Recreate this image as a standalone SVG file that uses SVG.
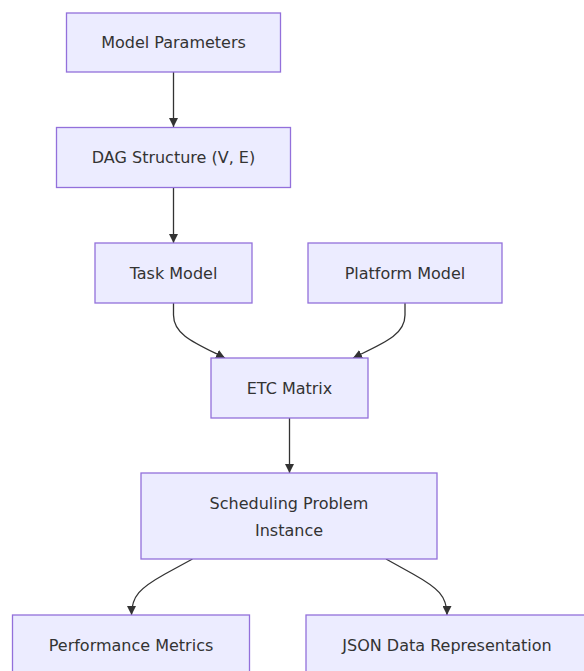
<svg xmlns="http://www.w3.org/2000/svg" width="584" height="671" viewBox="0 0 584 671">
<style>
.node rect{fill:#ECECFF;stroke:#9370DB;stroke-width:1.3}
.node text{font-family:"DejaVu Sans","Liberation Sans",sans-serif;font-size:16px;fill:#333333;text-anchor:middle;dominant-baseline:central}
.edge{fill:none;stroke:#333333;stroke-width:1.3;marker-end:url(#arrow)}
</style>
<defs>
<marker id="arrow" viewBox="0 0 10 10" refX="10" refY="5" markerUnits="userSpaceOnUse" markerWidth="9" markerHeight="9" orient="auto">
<path d="M0,0 L10,5 L0,10 z" fill="#333333"/>
</marker>
</defs>
<rect width="584" height="671" fill="#ffffff"/>
<g id="connectors">
<path class="edge" d="M173.5,72 L173.5,127"/>
<path class="edge" d="M173.5,188 L173.5,243"/>
<path class="edge" d="M173.5,303 L173.5,315 C173.5,335 195,343 225,358"/>
<path class="edge" d="M405,303 L405,315 C405,335 384,343 353,358"/>
<path class="edge" d="M289.5,418 L289.5,473"/>
<path class="edge" d="M192.5,559 L165,574 C140,588 131.5,596 131.5,615"/>
<path class="edge" d="M386,559 L413,574 C438,588 447,596 447,615"/>
</g>
<g id="model-parameters" class="node"><rect x="66.5" y="13" width="214" height="59"/><text x="173.5" y="42.5">Model Parameters</text></g>
<g id="dag-structure" class="node"><rect x="56.5" y="127.5" width="234" height="60"/><text x="173.5" y="157.5">DAG Structure (V, E)</text></g>
<g id="task-model" class="node"><rect x="95" y="243" width="157" height="60"/><text x="173.5" y="273">Task Model</text></g>
<g id="platform-model" class="node"><rect x="308" y="243" width="194" height="60"/><text x="405" y="273">Platform Model</text></g>
<g id="etc-matrix" class="node"><rect x="211" y="358" width="157" height="60"/><text x="289.5" y="388">ETC Matrix</text></g>
<g id="scheduling-problem" class="node"><rect x="141" y="473" width="296" height="86"/><text x="289" y="503">Scheduling Problem</text><text x="289" y="530">Instance</text></g>
<g id="performance-metrics" class="node"><rect x="12.5" y="615" width="237" height="60"/><text x="131" y="645">Performance Metrics</text></g>
<g id="json-data" class="node"><rect x="306" y="615" width="282" height="60"/><text x="447" y="645">JSON Data Representation</text></g>
</svg>
